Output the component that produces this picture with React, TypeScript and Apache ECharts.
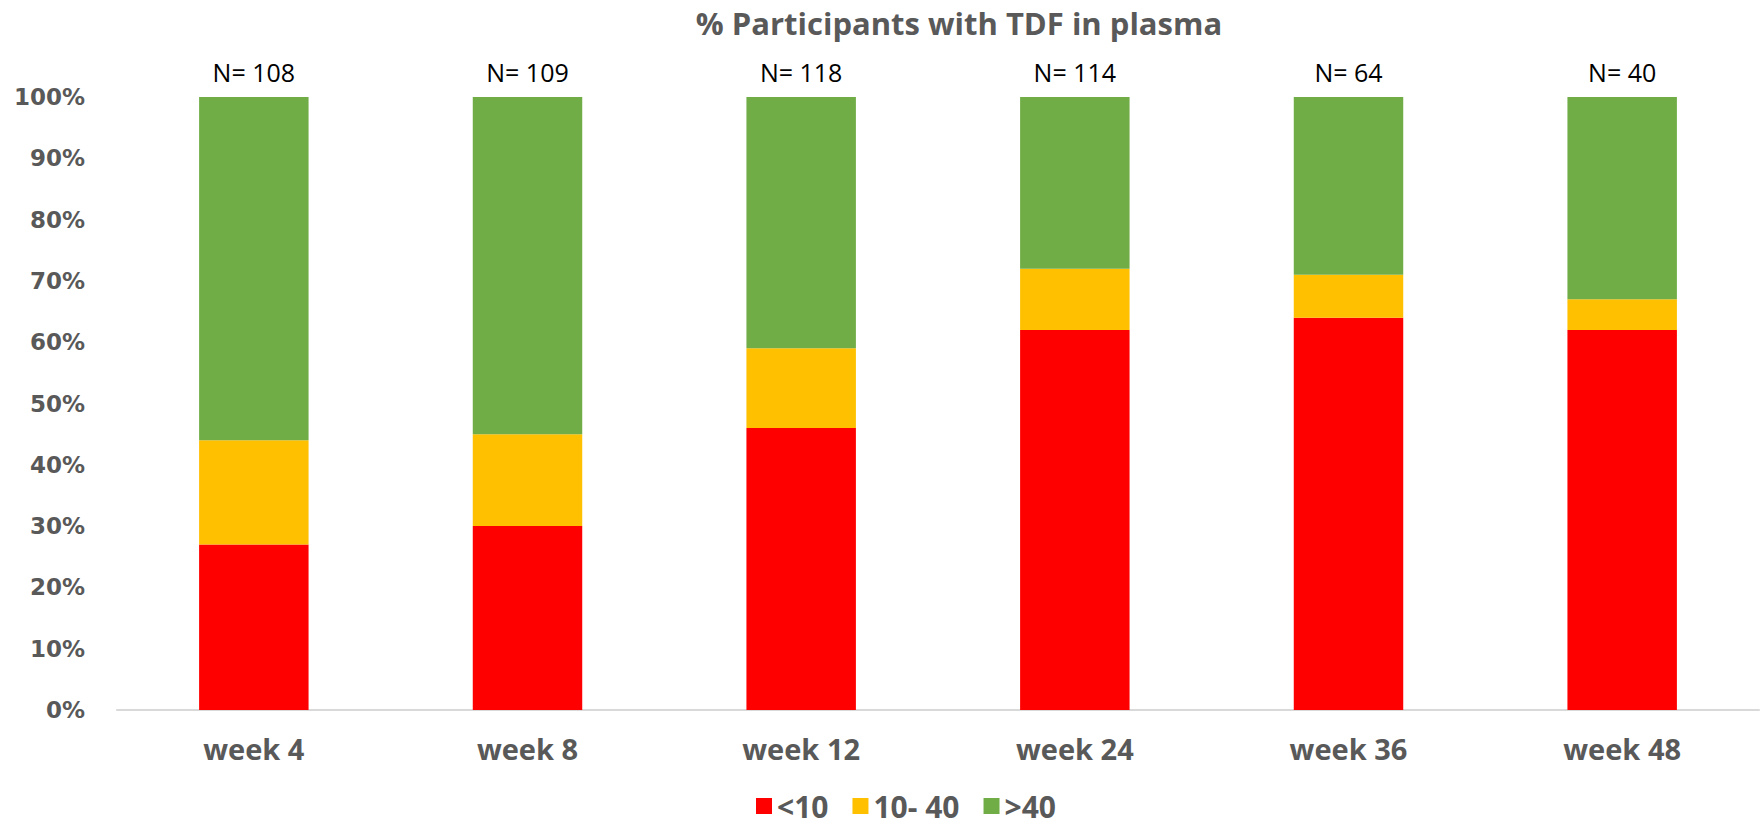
import React, { useEffect, useRef } from "react";
import * as echarts from "echarts";

const categories = ["week 4", "week 8", "week 12", "week 24", "week 36", "week 48"];
const nCounts = [108, 109, 118, 114, 64, 40];
const lt10 = [27, 30, 46, 62, 64, 62];
const mid10to40 = [17, 15, 13, 10, 7, 5];
const gt40 = [56, 55, 41, 28, 29, 33];
const yTicks = [0, 10, 20, 30, 40, 50, 60, 70, 80, 90, 100];

const seriesNames = ["<10", "10- 40", ">40"];
const colors = ["#FF0000", "#FFC000", "#70AD47"];

export default function App() {
  const ref = useRef<HTMLDivElement>(null);
  useEffect(() => {
    if (!ref.current) return;
    const chart = echarts.init(ref.current, undefined, { renderer: "svg" });
    const data = [lt10, mid10to40, gt40];
    chart.setOption({
      animation: false,
      title: {
        text: "% Participants with TDF in plasma",
        left: 954,
        textAlign: "center",
        top: 2,
        textStyle: { fontFamily: "Open Sans", fontWeight: "bold", fontSize: 31, color: "#595959" },
      },
      legend: {
        bottom: 2,
        left: 751,
        itemWidth: 16,
        itemHeight: 16,
        itemGap: 24,
        icon: "rect",
        data: seriesNames,
        textStyle: { fontFamily: "Open Sans", fontWeight: "bold", fontSize: 30, color: "#595959" },
      },
      grid: { left: 117, right: 2, top: 97, bottom: 118, containLabel: false },
      xAxis: {
        type: "category",
        data: categories,
        axisLine: { lineStyle: { color: "#D9D9D9", width: 2 } },
        axisTick: { show: false },
        axisLabel: {
          margin: 24,
          fontFamily: "Open Sans",
          fontWeight: "bold",
          fontSize: 29,
          color: "#595959",
        },
      },
      yAxis: {
        type: "value",
        min: yTicks[0],
        max: yTicks[yTicks.length - 1],
        interval: 10,
        splitLine: { show: false },
        axisLine: { show: false },
        axisTick: { show: false },
        axisLabel: {
          margin: 32,
          formatter: (v: number) => v + "%",
          fontFamily: "DejaVu Sans",
          fontWeight: "bold",
          fontSize: 23,
          color: "#595959",
        },
      },
      series: data.map((d, i) => ({
        name: seriesNames[i],
        type: "bar",
        stack: "total",
        barWidth: "40%",
        data: d,
        itemStyle: { color: colors[i] },
        label:
          i === 2
            ? {
                show: true,
                position: "top",
                distance: 13,
                formatter: (p: any) => "N= " + nCounts[p.dataIndex],
                fontFamily: "Open Sans",
                fontSize: 25,
                color: "#000000",
              }
            : { show: false },
      })),
    });
    return () => chart.dispose();
  }, []);
  return (
    <div
      ref={ref}
      style={{ position: "fixed", left: 0, top: 0, width: 1761, height: 828, background: "#fff" }}
    />
  );
}
